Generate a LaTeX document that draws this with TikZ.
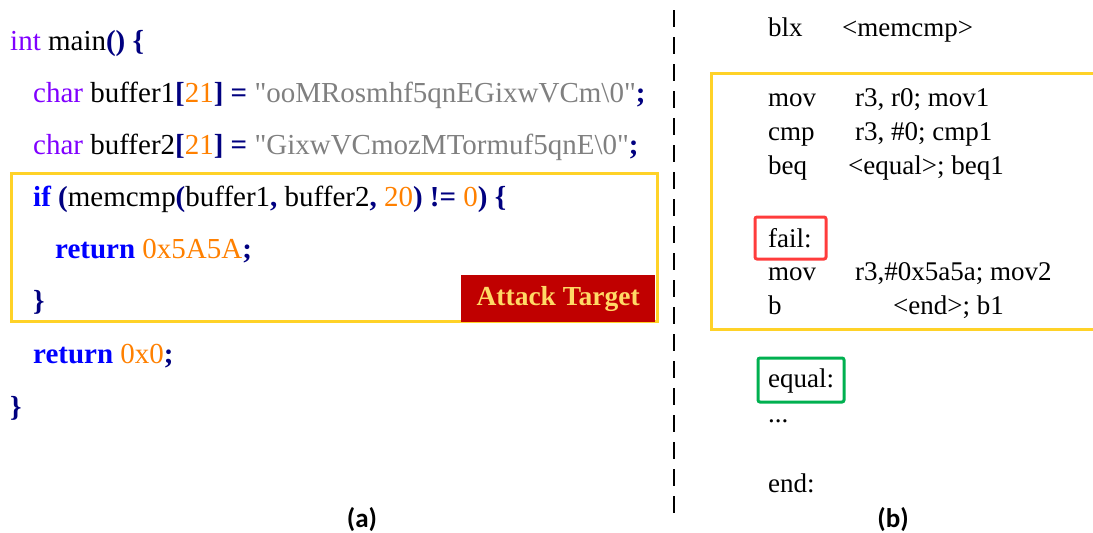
\documentclass[tikz,border=0pt]{standalone}
\usepackage{fontspec}
\setmainfont{Liberation Serif}
\newfontfamily\labelfont{Carlito}

% token colours of the C listing
\definecolor{tkpurple}{RGB}{128,0,255}
\definecolor{tkblue}{RGB}{0,0,255}
\definecolor{tknavy}{RGB}{0,0,128}
\definecolor{tkorange}{RGB}{255,128,0}
\definecolor{tkgray}{RGB}{128,128,128}
% frames
\definecolor{framegold}{RGB}{255,210,40}
\definecolor{attackred}{RGB}{192,0,0}
\definecolor{attacktext}{RGB}{255,217,102}
\definecolor{failred}{RGB}{255,60,60}
\definecolor{equalgreen}{RGB}{0,176,80}

\newcommand\tkType[1]{\textcolor{tkpurple}{#1}}
\newcommand\tkKey[1]{\textcolor{tkblue}{\bfseries #1}}
\newcommand\tkOp[1]{\textcolor{tknavy}{\bfseries #1}}
\newcommand\tkNum[1]{\textcolor{tkorange}{#1}}
\newcommand\tkStr[1]{\textcolor{tkgray}{\textquotedbl #1\textquotedbl}}

\begin{document}
\begin{tikzpicture}[x=1pt,y=-1pt,
  src/.style={anchor=base west, inner sep=0pt, font=\fontsize{29}{34}\selectfont},
  asm/.style={anchor=base west, inner sep=0pt, font=\fontsize{27}{32}\selectfont},
  goldframe/.style={draw=framegold, line width=3pt},
  labelbox/.style={line width=3pt, rounded corners=2pt},
  caption/.style={inner sep=0pt, font=\labelfont\bfseries\fontsize{27}{30}\selectfont},
  divider/.style={line width=2.5pt, dash pattern=on 17pt off 10pt}]
\useasboundingbox (0,0) rectangle (1093,533);

% ---------- (a) C source ----------
\draw[goldframe] (11,173) rectangle (657,321);
\node[fill=attackred, inner sep=0pt, minimum width=194pt, minimum height=47pt,
      anchor=north west, text=attacktext, font=\bfseries\fontsize{27.5}{30}\selectfont]
      (atk) at (461,275) {Attack Target};

\node[src] (l1) at (10,50) {\tkType{int} main\tkOp{() \{}};
\node[src] (l2) at (33,102) {\tkType{char} buffer1\tkOp{[}\tkNum{21}\tkOp{]} \tkOp{=} \tkStr{ooMRosmhf5qnEGixwVCm\textbackslash0}\tkOp{;}};
\node[src] (l3) at (33,154) {\tkType{char} buffer2\tkOp{[}\tkNum{21}\tkOp{]} \tkOp{=} \tkStr{GixwVCmozMTormuf5qnE\textbackslash0}\tkOp{;}};
\node[src] (l4) at (33,206) {\tkKey{if} \tkOp{(}memcmp\tkOp{(}buffer1\tkOp{,} buffer2\tkOp{,} \tkNum{20}\tkOp{) !=} \tkNum{0}\tkOp{) \{}};
\node[src] (l5) at (55,258) {\tkKey{return} \tkNum{0x5A5A}\tkOp{;}};
\node[src] (l6) at (33,310) {\tkOp{\}}};
\node[src] (l7) at (33,363) {\tkKey{return} \tkNum{0x0}\tkOp{;}};
\node[src] (l8) at (10,416) {\tkOp{\}}};

\node[caption] (capa) at (362,520) {(a)};

% ---------- divider ----------
\coordinate (dtop) at (674,10);
\coordinate (dbot) at (674,522);
\draw[divider] (dtop) -- (dbot);

% ---------- (b) disassembly ----------
\draw[goldframe] (1097,73) -- (711,73) -- (711,329) -- (1097,329);

\node[asm] (blx)  at (768,36)  {blx};
\node[asm] (blxa) at (842,36)  {<memcmp>};
\node[asm] (mv1)  at (768,106) {mov};
\node[asm] (mv1a) at (855,106) {r3, r0; mov1};
\node[asm] (cm1)  at (768,140) {cmp};
\node[asm] (cm1a) at (855,140) {r3, \#0; cmp1};
\node[asm] (bq1)  at (768,174) {beq};
\node[asm] (bq1a) at (848,174) {<equal>; beq1};
\node[asm] (fail) at (768,247) {fail:};
\node[asm] (mv2)  at (768,280) {mov};
\node[asm] (mv2a) at (855,280) {r3,\#0x5a5a; mov2};
\node[asm] (b1)   at (768,314) {b};
\node[asm] (b1a)  at (893,314) {<end>; b1};
\node[asm] (equal) at (768,387) {equal:};
\node[asm] (dots) at (768,422) {...};
\node[asm] (endl) at (768,492) {end:};

\draw[labelbox, draw=failred] (755,217) rectangle (826,259);
\draw[labelbox, draw=equalgreen] (758,358) rectangle (844,402);

\node[caption] (capb) at (893,520) {(b)};
\end{tikzpicture}
\end{document}
